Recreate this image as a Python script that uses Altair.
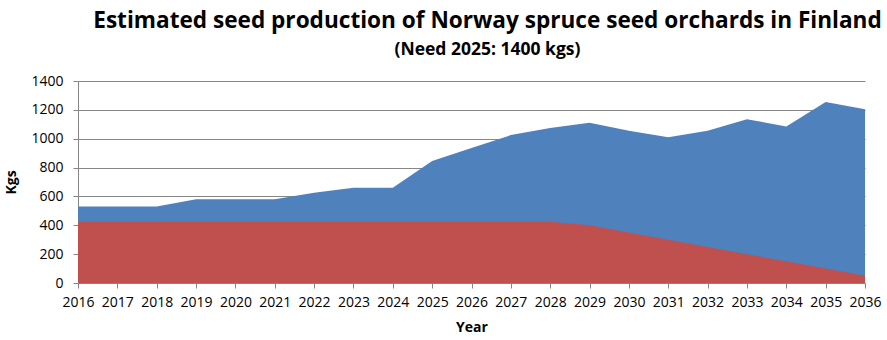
import altair as alt
import pandas as pd

years = list(range(2016, 2037))
total_kgs = [530, 530, 530, 580, 580, 580, 625, 660, 660, 845, 935,
             1025, 1075, 1110, 1055, 1010, 1055, 1135, 1085, 1255, 1205]
red_kgs = [425] * 13 + [400, 350, 300, 250, 200, 150, 100, 50]
y_ticks = [0, 200, 400, 600, 800, 1000, 1200, 1400]

df = pd.DataFrame({"Year": years, "Total": total_kgs, "Red": red_kgs})

FONT = "Open Sans"

x_axis = alt.Axis(values=years, format="d", title="Year", grid=False,
                  labelFontSize=14, labelColor="black", labelFont=FONT,
                  labelPadding=7, tickSize=5, tickColor="#868686",
                  domainColor="#868686", titleFont=FONT, titleFontSize=14,
                  titleFontWeight="bold", titleColor="black", titlePadding=11,
                  labelOverlap=False, labelFlush=False)
y_axis = alt.Axis(values=y_ticks, format="d", title="Kgs", grid=True,
                  gridColor="#868686", gridWidth=1, domainColor="#868686",
                  tickSize=5, tickColor="#868686", labelOverlap=False,
                  labelFontSize=14, labelColor="black", labelFont=FONT,
                  labelPadding=10, titleFont=FONT, titleFontSize=14,
                  titleFontWeight="bold", titleColor="black", titlePadding=12)

xs = alt.Scale(domain=[2016, 2036], nice=False, zero=False)
ys = alt.Scale(domain=[0, 1400], nice=False)

blue = alt.Chart(df).mark_area(color="#4F81BD", opacity=1).encode(
    x=alt.X("Year:Q", scale=xs, axis=x_axis),
    y=alt.Y("Total:Q", scale=ys, axis=y_axis),
)

red = alt.Chart(df).mark_area(color="#C0504D", opacity=1).encode(
    x=alt.X("Year:Q", scale=xs, axis=x_axis),
    y=alt.Y("Red:Q", scale=ys, axis=y_axis),
)

chart = (blue + red).properties(
    width=787,
    height=202,
    autosize=alt.AutoSizeParams(type="none"),
    padding={"left": 78, "top": 81, "right": 22, "bottom": 57},
    title=alt.TitleParams(
        text="Estimated seed production of Norway spruce seed orchards in Finland",
        subtitle="(Need 2025: 1400 kgs)",
        font=FONT, fontSize=22.6, fontWeight="bold", color="black",
        subtitleFont=FONT, subtitleFontSize=17.5, subtitleFontWeight="bold",
        subtitleColor="black", subtitlePadding=8,
        anchor="middle", dx=16, offset=16,
    ),
).configure_view(stroke=None)

chart.save("out.html", embed_options={"renderer": "svg", "actions": False})
